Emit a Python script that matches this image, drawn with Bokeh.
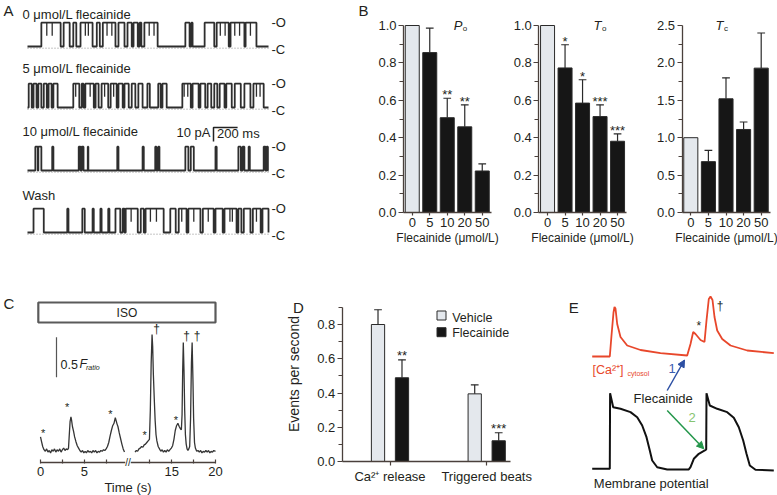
import math
from bokeh.plotting import figure
from bokeh.layouts import row, column
from bokeh.models import Range1d, Label, Arrow, NormalHead, FixedTicker, NumeralTickFormatter
from bokeh.embed import file_html
from bokeh.resources import INLINE

FONT = "Liberation Sans"
INK = "#231f20"
AXC = "#4a403c"
DARK = "#161616"
LIGHT = "#e4e8ed"
EDGE = "#2a2a2a"

# ======================= DATA =======================
# Panel A - single RyR2 channel sweeps (2 s); open intervals in ms
a_labels = ["0 μmol/L flecainide", "5 μmol/L flecainide", "10 μmol/L flecainide", "Wash"]
a_sweep_ms = 2000
a_unitary_pA = 17
a_open_0 = [(115, 275), (300, 350), (380, 405), (440, 540), (575, 600), (625, 730), (755, 805),
            (830, 865), (880, 915), (930, 945), (970, 1080), (1310, 1345), (1360, 1370),
            (1470, 1550), (1570, 1670), (1685, 1800), (1810, 1900)]
a_open_5 = [(10, 35), (50, 75), (90, 115), (135, 160), (175, 200), (215, 250), (380, 430), (450, 465),
            (480, 550), (565, 590), (615, 670), (690, 740), (755, 790), (805, 840), (865, 895),
            (920, 955), (995, 1015), (1085, 1105), (1120, 1155), (1285, 1355), (1370, 1420),
            (1435, 1475), (1495, 1525), (1550, 1575), (1595, 1635), (1650, 1695), (1720, 1770),
            (1800, 1850), (1875, 1960)]
a_open_10 = [(65, 85), (90, 115), (205, 215), (425, 440), (450, 465), (500, 505), (745, 755),
             (955, 965), (1060, 1070), (1085, 1095), (1310, 1335), (1355, 1380), (1560, 1570),
             (1750, 1770), (1785, 1800), (1835, 1845), (1960, 1975), (1985, 1995)]
a_open_wash = [(50, 135), (330, 340), (455, 475), (540, 550), (605, 615), (670, 680), (730, 770),
               (790, 805), (815, 915), (940, 965), (980, 1130), (1185, 1230), (1255, 1320),
               (1335, 1435), (1455, 1545), (1560, 1620), (1635, 1735), (1750, 1775), (1795, 1850),
               (1870, 1935), (1950, 2000)]
a_flick_0 = [160, 205, 480, 505, 660, 700, 1010, 1050, 1600, 1640, 1720, 1760, 1850]
a_flick_5 = [400, 520, 640, 715, 1300, 1330, 1900, 1930]
a_flick_10 = []
a_flick_wash = [860, 1020, 1070, 1280, 1380, 1500, 1680, 1700, 1900]
a_scale_ms = 200
a_scale_pA = 10

# Panel B - normalised gating parameters
b_conc_labels = ["0", "5", "10", "20", "50"]
po_mean = [1.0, 0.855, 0.507, 0.458, 0.222]
po_sem = [0.0, 0.131, 0.104, 0.118, 0.038]
po_sig = ["", "", "**", "**", ""]
to_mean = [1.0, 0.773, 0.585, 0.513, 0.381]
to_sem = [0.0, 0.124, 0.125, 0.063, 0.039]
to_sig = ["", "*", "*", "***", "***"]
tc_mean = [1.0, 0.68, 1.52, 1.11, 1.93]
tc_sem = [0.0, 0.15, 0.28, 0.10, 0.47]
tc_sig = ["", "", "", "", ""]

# Panel C - Ca2+ fluorescence ratio vs time (s)
c_time_a = [0.00, 0.10, 0.25, 0.40, 0.55, 0.70, 0.85, 1.00, 1.15, 1.30, 1.45, 1.60, 1.75, 1.90, 2.05,
            2.20, 2.35, 2.50, 2.65, 2.80, 2.95, 3.10, 3.20, 3.28, 3.38, 3.48, 3.55, 3.65, 3.78, 3.90,
            4.05, 4.20, 4.35, 4.50, 4.65, 4.80, 4.95, 5.10, 5.25, 5.40, 5.55, 5.70, 5.85, 6.00, 6.15,
            6.30, 6.45, 6.60, 6.75, 6.90, 7.05, 7.20, 7.35, 7.50, 7.65, 7.80, 7.95, 8.10, 8.25, 8.40,
            8.55, 8.65, 8.75, 8.85, 9.00, 9.15, 9.30, 9.45, 9.60]
c_ratio_a = [1.17, 1.12, 1.05, 1.01, 0.99, 1.02, 0.98, 1.00, 0.97, 1.01, 0.99, 1.02, 0.98, 1.01, 0.99,
             1.02, 0.98, 1.01, 1.03, 1.00, 1.02, 1.01, 1.03, 1.18, 1.36, 1.42, 1.38, 1.30, 1.24, 1.17,
             1.11, 1.06, 1.03, 1.00, 0.98, 1.00, 0.97, 0.99, 0.97, 1.00, 0.98, 0.99, 0.97, 1.00, 0.98,
             1.00, 0.97, 0.99, 0.98, 1.00, 0.99, 1.01, 1.00, 1.02, 1.05, 1.10, 1.18, 1.25, 1.31, 1.34,
             1.41, 1.37, 1.33, 1.30, 1.22, 1.15, 1.08, 1.02, 0.98]
c_time_b = [10.80, 10.95, 11.10, 11.25, 11.40, 11.55, 11.70, 11.85, 12.00, 12.15, 12.30, 12.45, 12.55,
            12.65, 12.75, 12.82, 12.90, 13.00, 13.10, 13.20, 13.30, 13.45, 13.60, 13.75, 13.90, 14.05,
            14.20, 14.35, 14.50, 14.65, 14.80, 14.95, 15.10, 15.25, 15.40, 15.55, 15.70, 15.85, 16.00,
            16.10, 16.18, 16.25, 16.32, 16.40, 16.48, 16.56, 16.65, 16.75, 16.85, 16.95, 17.05, 17.15,
            17.25, 17.33, 17.42, 17.50, 17.60, 17.70, 17.85, 18.00, 18.15, 18.30, 18.45, 18.60, 18.75,
            18.90, 19.05, 19.20, 19.35, 19.50, 19.65, 19.80, 20.00]
c_ratio_b = [0.98, 1.00, 0.99, 1.02, 1.03, 1.05, 1.04, 1.07, 1.08, 1.10, 1.12, 1.14, 1.50,
             2.10, 2.45, 2.30, 1.95, 1.65, 1.38, 1.20, 1.12, 1.05, 1.02, 0.99, 1.01, 0.98,
             1.00, 0.98, 1.01, 0.99, 1.01, 1.03, 1.06, 1.14, 1.25, 1.31, 1.34, 1.30, 1.27,
             1.26, 1.45, 2.00, 2.35, 2.00, 1.50, 1.20, 1.08, 1.02, 1.00, 1.02, 1.05, 1.40,
             2.10, 2.35, 1.90, 1.40, 1.10, 1.03, 0.99, 1.00, 0.98, 1.00, 0.97, 0.99, 0.98,
             1.00, 0.98, 1.00, 0.97, 0.99, 0.98, 1.00, 0.99]
c_major_ticks = [0, 5, 15, 20]
c_minor_ticks = [2.5, 7.5, 12.5, 17.5]
c_iso_window = (-0.25, 20.0)
c_break_s = 10
c_scale_ratio = 0.5
c_release_marks = [(0.30, 1.22, "*"), (3.05, 1.55, "*"), (8.0, 1.46, "*"), (11.9, 1.19, "*"),
                   (15.47, 1.38, "*"), (13.26, 2.52, "†"), (16.69, 2.43, "†"), (17.9, 2.43, "†")]

# Panel D - events per second
d_groups = ["Ca²⁺ release", "Triggered beats"]
d_vehicle_mean = [0.80, 0.395]
d_vehicle_sem = [0.086, 0.053]
d_flec_mean = [0.489, 0.121]
d_flec_sem = [0.105, 0.047]
d_flec_sig = ["**", "***"]

# Panel E - schematic traces (time ms)
e_time_ca = [0, 176, 193, 213, 223, 233, 250, 283, 350, 483, 683, 950, 983, 1010, 1033, 1083, 1123,
             1143, 1166, 1183, 1203, 1223, 1250, 1300, 1383, 1550, 1816]
e_ca = [0, 0, 0.42, 0.88, 0.99, 0.96, 0.65, 0.39, 0.22, 0.13, 0.066, 0.02, 0.25, 0.49, 0.45, 0.33,
        0.29, 0.72, 1.15, 1.20, 1.13, 0.79, 0.52, 0.35, 0.22, 0.12, 0.066]
e_time_vm = [0, 176, 179, 210, 283, 383, 450, 500, 543, 576, 600, 650, 750, 966, 983, 1016, 1066,
             1126, 1140, 1143, 1176, 1250, 1350, 1416, 1466, 1510, 1543, 1576, 1633, 1816]
e_vm = [-85, -85, 30, 8.8, 6.3, 1.2, -6.5, -19.1, -36.9, -57.1, -72.4, -82.6, -86, -86, -82.6,
        -69.8, -62.2, -57.1, -55.6, 30, 11.3, 6.3, 1.2, -7.4, -21.7, -41.9, -62.2, -80, -86.5, -87.6]

# ======================= HELPERS =======================
TOP_H, BOT_Y0, BOT_H = 262, 262, 233


def make_fig(w, h, xr, yr, xaxis=False, yaxis=False):
    p = figure(width=w, height=h, x_range=Range1d(*xr), y_range=Range1d(*yr),
               output_backend="svg", toolbar_location=None, title=None,
               x_axis_type="linear" if xaxis else None, y_axis_type="linear" if yaxis else None,
               min_border_left=0, min_border_right=0, min_border_top=0, min_border_bottom=0)
    p.outline_line_color = None
    p.grid.visible = False
    p.background_fill_color = "white"
    p.border_fill_color = "white"
    return p


def lab(p, x, y, text, size=13, align="left", baseline="middle", color=INK, style="normal",
        bg=None, angle=0.0):
    p.add_layout(Label(x=x, y=y, text=text, text_font=FONT, text_font_size=f"{size}px",
                       text_align=align, text_baseline=baseline, text_color=color,
                       text_font_style=style, background_fill_color=bg, angle=angle))


def style_axes(p):
    for a in p.axis:
        a.axis_line_color = AXC
        a.axis_line_width = 1.3
        a.major_tick_line_color = AXC
        a.minor_tick_line_color = AXC
        a.major_tick_line_width = 1.2
        a.minor_tick_line_width = 1.2
        a.major_label_text_font = FONT
        a.major_label_text_font_size = "13px"
        a.major_label_text_color = INK
        a.axis_label_text_font = FONT
        a.axis_label_text_font_size = "12px"
        a.axis_label_text_font_style = "normal"
        a.axis_label_text_color = INK


# ======================= PANEL A =======================
A_L, A_R = 0, 355
a_ppms = 0.1205       # px per ms
a_pppa = 1.4          # px per pA
def ax(rx):
    return (rx - 27) / a_ppms
def ay(ry):
    return (TOP_H - ry) / a_pppa

pA = make_fig(A_R - A_L, TOP_H, (ax(A_L), ax(A_R)), (ay(TOP_H), ay(0)))
a_rows_ref = [46, 107, 170, 232]
a_label_ref = [14, 68, 131, 195]
sweeps = [(a_open_0, a_flick_0), (a_open_5, a_flick_5), (a_open_10, a_flick_10), (a_open_wash, a_flick_wash)]
for (opens, flicks), rref, lref, name in zip(sweeps, a_rows_ref, a_label_ref, a_labels):
    base = ay(rref)
    top = base + a_unitary_pA
    xs, ys = [0], [base]
    for s, e in opens:
        xs += [s, s, e, e]
        ys += [base, top, top, base]
    xs.append(a_sweep_ms)
    ys.append(base)
    pA.line([0, a_sweep_ms], [base - 1.2, base - 1.2], line_color="#8c8c8c", line_dash="1 2", line_width=1)
    pA.line(xs, ys, line_color="#2e2e2e", line_width=1.8)
    if flicks:
        pA.segment(x0=flicks, y0=[top] * len(flicks), x1=flicks, y1=[top - 0.55 * a_unitary_pA] * len(flicks),
                   line_color="#2e2e2e", line_width=1.3)
    lab(pA, ax(22), ay(lref), name, size=13)
    lab(pA, ax(271), top, "-O", size=13)
    lab(pA, ax(271), base - 2.0, "-C", size=13)

sx0, sy0 = ax(213), ay(127)
pA.line([sx0 + a_scale_ms, sx0, sx0], [sy0, sy0, sy0 - a_scale_pA], line_color="#222", line_width=1.5)
lab(pA, ax(210), ay(132), f"{a_scale_pA} pA", size=13, align="right")
lab(pA, ax(216.5), ay(133), f"{a_scale_ms} ms", size=13)
lab(pA, ax(3), ay(10), "A", size=15)


# ======================= PANEL B =======================
def bar_panel(L, R, axis_ref, spacing, means, sems, sigs, ymax, major, minor, tmain, tsub, title_ref_x, letter=None):
    c0 = axis_ref + spacing / 2.0
    ppu = 187.0 / ymax
    def bx(rx):
        return (rx - c0) / spacing
    def by(ry):
        return (212 - ry) / ppu
    p = make_fig(R - L, TOP_H, (bx(L), bx(R)), (by(TOP_H), by(0)), xaxis=True, yaxis=True)
    xs = list(range(len(means)))
    cols = [LIGHT] + [DARK] * (len(means) - 1)
    p.vbar(x=xs, top=means, bottom=0, width=0.8, fill_color=cols, line_color=EDGE, line_width=1)
    ex = [x for x, s in zip(xs, sems) if s > 0]
    em = [m for m, s in zip(means, sems) if s > 0]
    et = [m + s for m, s in zip(means, sems) if s > 0]
    p.segment(x0=ex, y0=em, x1=ex, y1=et, line_color=EDGE, line_width=1.2)
    p.segment(x0=[x - 0.22 for x in ex], y0=et, x1=[x + 0.22 for x in ex], y1=et, line_color=EDGE, line_width=1.2)
    for x, m, s, g in zip(xs, means, sems, sigs):
        if g:
            lab(p, x, m + s + 3.5 / ppu, g, size=13, align="center")
    style_axes(p)
    ya = p.yaxis[0]
    ya.fixed_location = -0.5
    ya.ticker = FixedTicker(ticks=major, minor_ticks=minor)
    ya.formatter = NumeralTickFormatter(format="0.0")
    ya.bounds = (0, ymax)
    ya.major_tick_out, ya.major_tick_in = 5, 0
    ya.minor_tick_out, ya.minor_tick_in = 4, 0
    ya.major_label_standoff = 2
    xa = p.xaxis[0]
    xa.fixed_location = 0
    xa.bounds = (-0.5, len(means) - 0.5)
    xa.ticker = FixedTicker(ticks=xs, minor_ticks=[])
    xa.major_label_overrides = {i: t for i, t in enumerate(b_conc_labels)}
    xa.major_tick_out, xa.major_tick_in = 3, 0
    xa.major_label_standoff = 2
    xa.axis_label = "Flecainide (μmol/L)"
    xa.axis_label_standoff = 1
    lab(p, bx(title_ref_x), by(25), tmain, size=13, align="center", style="italic")
    lab(p, bx(title_ref_x + 4.5), by(28), tsub, size=8, align="left")
    if letter:
        lab(p, bx(363), by(10), letter, size=15, align="center")
    return p

pB1 = bar_panel(355, 502, 403.0, 17.5, po_mean, po_sem, po_sig, 1.0,
                [0, 0.2, 0.4, 0.6, 0.8, 1.0], [0.1, 0.3, 0.5, 0.7, 0.9], "P", "o", 457.7, letter="B")
pB2 = bar_panel(502, 640, 538.3, 17.5, to_mean, to_sem, to_sig, 1.0,
                [0, 0.2, 0.4, 0.6, 0.8, 1.0], [0.1, 0.3, 0.5, 0.7, 0.9], "T", "o", 597.0)
pB3 = bar_panel(640, 777, 681.5, 17.6, tc_mean, tc_sem, tc_sig, 2.5,
                [0, 0.5, 1.0, 1.5, 2.0, 2.5], [0.25, 0.75, 1.25, 1.75, 2.25], "T", "c", 719.0)


# ======================= PANEL C =======================
C_L, C_R = 0, 285
def cx(rx):
    return (rx - 40) / 8.75
def cy(ry):
    return 1 + (450 - ry) / 80.0

pC = make_fig(C_R - C_L, BOT_H, (cx(C_L), cx(C_R)), (cy(495), cy(BOT_Y0)), xaxis=True)
style_axes(pC)
xa = pC.xaxis[0]
xa.fixed_location = cy(461.7)
xa.bounds = (0, 20)
xa.ticker = FixedTicker(ticks=c_major_ticks, minor_ticks=c_minor_ticks)
xa.major_tick_in, xa.major_tick_out = 3, 1
xa.minor_tick_in, xa.minor_tick_out = 3, 1
xa.major_label_standoff = 4
xa.axis_label = "Time (s)"
xa.axis_label_standoff = 0
xa.axis_label_text_font_size = "13px"
pC.quad(left=[c_iso_window[0]], right=[c_iso_window[1]], top=[cy(302)], bottom=[cy(322)],
        fill_color="white", line_color="#5a5a5a", line_width=2.2)
lab(pC, sum(c_iso_window) / 2, cy(312), "ISO", size=12, align="center")
pC.line(c_time_a, c_ratio_a, line_color="#353535", line_width=1.3)
pC.line(c_time_b, c_ratio_b, line_color="#353535", line_width=1.3)
sb_x, sb_y = cx(56), cy(376.7)
pC.line([sb_x, sb_x], [sb_y, sb_y + c_scale_ratio], line_color="#555", line_width=1.2)
lab(pC, cx(60), cy(363.5), f"{c_scale_ratio}", size=12.5)
lab(pC, cx(79), cy(363.5), "F", size=12.5, style="italic")
lab(pC, cx(85.5), cy(367), "ratio", size=7, style="italic")
for t, f, s in c_release_marks:
    lab(pC, t, f, s, size=12 if s == "†" else 11, align="center")
lab(pC, c_break_s, cy(461.7), "//", size=10, align="center", bg="white")
lab(pC, cx(8.5), cy(303), "C", size=15, align="center")


# ======================= PANEL D =======================
D_L, D_R = 285, 565
def dx(rx):
    return (rx - 389.5) / 96.7
def dy(ry):
    return (461 - ry) / 171.25

pD = make_fig(D_R - D_L, BOT_H, (dx(D_L), dx(D_R)), (dy(495), dy(BOT_Y0)), xaxis=True, yaxis=True)
off = 0.124
bw = 0.137
gx = list(range(len(d_groups)))
vx = [g - off for g in gx]
fx = [g + off for g in gx]
pD.vbar(x=vx, top=d_vehicle_mean, bottom=0, width=bw, fill_color=LIGHT, line_color=EDGE, line_width=1)
pD.vbar(x=fx, top=d_flec_mean, bottom=0, width=bw, fill_color=DARK, line_color=EDGE, line_width=1)
for xs_, ms_, ss_ in [(vx, d_vehicle_mean, d_vehicle_sem), (fx, d_flec_mean, d_flec_sem)]:
    tops = [m + s for m, s in zip(ms_, ss_)]
    pD.segment(x0=xs_, y0=ms_, x1=xs_, y1=tops, line_color=EDGE, line_width=1.2)
    pD.segment(x0=[x - 0.04 for x in xs_], y0=tops, x1=[x + 0.04 for x in xs_], y1=tops,
               line_color=EDGE, line_width=1.2)
for x, m, s, g in zip(fx, d_flec_mean, d_flec_sem, d_flec_sig):
    lab(pD, x, m + s + 4.5 / 171.25, g, size=13, align="center")
style_axes(pD)
ya = pD.yaxis[0]
ya.fixed_location = dx(341.7)
ya.ticker = FixedTicker(ticks=[0, 0.2, 0.4, 0.6, 0.8], minor_ticks=[0.1, 0.3, 0.5, 0.7, 0.9])
ya.formatter = NumeralTickFormatter(format="0.0")
ya.bounds = (0, 0.9)
ya.major_tick_out, ya.major_tick_in = 5, 0
ya.minor_tick_out, ya.minor_tick_in = 4, 0
ya.major_label_standoff = 2
xa = pD.xaxis[0]
xa.fixed_location = 0
xa.bounds = (dx(341.7), dx(510))
xa.ticker = FixedTicker(ticks=gx, minor_ticks=[])
xa.major_label_overrides = {i: t for i, t in enumerate(d_groups)}
xa.major_tick_out, xa.major_tick_in = 4, 0
xa.major_label_standoff = 3
lab(pD, dx(293), dy(373.5), "Events per second", size=14, align="center", angle=math.pi / 2)
pD.scatter(x=[dx(441), dx(441)], y=[dy(315), dy(331.7)], marker="square", size=9,
           fill_color=[LIGHT, DARK], line_color=EDGE, line_width=1)
lab(pD, dx(451.7), dy(317), "Vehicle", size=12.5)
lab(pD, dx(451.7), dy(332.7), "Flecainide", size=12.5)
lab(pD, dx(298), dy(306.7), "D", size=15, align="center")


# ======================= PANEL E =======================
E_L, E_R = 565, 777
def ex_(rx):
    return (rx - 591.7) * 10
def ey_(ry):
    return (356 - ry) / 50.0
def evm(ry):
    return -85 + (468.3 - ry) / 0.657

pE = make_fig(E_R - E_L, BOT_H, (ex_(E_L), ex_(E_R)), (ey_(495), ey_(BOT_Y0)))
pE.extra_y_ranges = {"vm": Range1d(evm(495), evm(BOT_Y0))}
RED = "#e8472b"
pE.line(e_time_ca, e_ca, line_color=RED, line_width=1.8)
pE.line(e_time_vm, e_vm, line_color="#111111", line_width=2.0, y_range_name="vm")
BLUE = "#2c4fa3"
GREEN = "#23964a"
pE.add_layout(Arrow(end=NormalHead(size=7, fill_color=BLUE, line_color=BLUE),
                    x_start=ex_(666.7), y_start=ey_(390), x_end=ex_(684), y_end=ey_(359.5),
                    line_color=BLUE, line_width=1.5))
pE.add_layout(Arrow(end=NormalHead(size=7, fill_color=GREEN, line_color=GREEN),
                    x_start=ex_(666.7), y_start=ey_(410), x_end=ex_(703.3), y_end=ey_(448.3),
                    line_color=GREEN, line_width=1.5))
lab(pE, ex_(662.7), ey_(398.3), "Flecainide", size=13, align="center")
lab(pE, ex_(671.7), ey_(368.3), "1", size=13, align="center", color="#3b5db0")
lab(pE, ex_(691.7), ey_(417.3), "2", size=13, align="center", color="#86c46f")
lab(pE, ex_(592), ey_(369.5), "[Ca²⁺]", size=12.5, color=RED)
lab(pE, ex_(627), ey_(373), "cytosol", size=7, color=RED)
lab(pE, ex_(698.3), ey_(325), "*", size=12, align="center")
lab(pE, ex_(719.5), ey_(305), "†", size=12, align="center")
lab(pE, ex_(593.3), ey_(482.7), "Membrane potential", size=13)
lab(pE, ex_(573.3), ey_(306.7), "E", size=15, align="center")


layout = column(row(pA, pB1, pB2, pB3), row(pC, pD, pE))
with open("out.html", "w") as f:
    f.write(file_html(layout, INLINE))
